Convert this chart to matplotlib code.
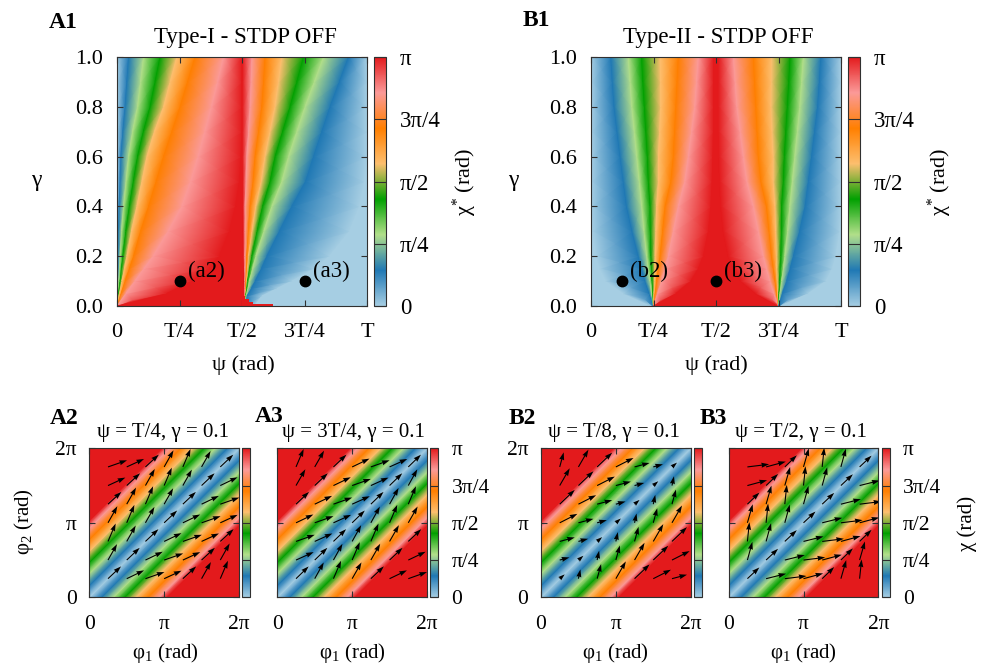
import numpy as np
import matplotlib
matplotlib.use("Agg")
import matplotlib.pyplot as plt
from matplotlib.cm import ScalarMappable
from matplotlib.colors import LinearSegmentedColormap, Normalize

plt.rcParams['font.family'] = ['Liberation Serif', 'DejaVu Serif']
plt.rcParams['mathtext.fontset'] = 'custom'
plt.rcParams['mathtext.rm'] = 'Liberation Serif'
plt.rcParams['mathtext.it'] = 'Liberation Serif'

W, H = 985, 667
LINE = '#303030'

# colour stops of the palette, chi in units of pi
palette = ['#a6cee3', '#1f78b4', '#b2df8a', '#00a000', '#fdbf6f', '#ff7f00', '#fb9a99', '#e31a1c']
chi_stops = [0, .143, .286, .429, .571, .714, .857, 1]

# top panels: psi/T where chi reaches each stop, one row per gamma
a1_left_gamma = [0, .05, .1, .15, .2, .3, .4, .5, .6, .7, .8, .9, 1]
a1_left = [
    [0, 0, 0, 0, 0, 0, 0, 0, .53],
    [0, .001, .003, .006, .01, .017, .036, .2, .53],
    [0, .003, .007, .013, .02, .033, .072, .3, .53],
    [0, .004, .01, .018, .03, .05, .108, .37, .53],
    [0, .004, .013, .024, .04, .067, .145, .41, .53],
    [0, .006, .019, .036, .058, .095, .205, .45, .53],
    [0, .009, .027, .05, .08, .127, .26, .475, .53],
    [0, .013, .037, .066, .1, .157, .295, .49, .53],
    [0, .016, .047, .083, .12, .187, .325, .497, .53],
    [0, .024, .063, .106, .15, .22, .352, .5, .53],
    [0, .033, .083, .133, .187, .253, .378, .5, .53],
    [0, .04, .095, .153, .213, .283, .403, .5, .53],
    [0, .047, .107, .173, .24, .313, .427, .5, .53],
]
a1_right_gamma = [0, .04, .07, .1, .15, .2, .3, .4, .5, .6, .7, .8, .9, 1]
a1_right = [
    [.513, .513, .514, .514, .515, .515, .516, .55, 1],
    [.511, .512, .513, .514, .515, .516, .52, .58, 1],
    [.510, .512, .515, .517, .519, .524, .538, .64, 1],
    [.509, .512, .516, .519, .522, .53, .553, .70, 1],
    [.508, .512, .518, .523, .531, .543, .578, .79, 1],
    [.506, .512, .52, .527, .54, .556, .60, .85, 1],
    [.505, .513, .526, .541, .561, .588, .65, .93, 1],
    [.504, .513, .533, .556, .583, .62, .70, .97, 1],
    [.504, .517, .545, .578, .613, .66, .755, .99, 1],
    [.503, .52, .553, .593, .633, .687, .787, 1, 1],
    [.503, .527, .567, .613, .663, .72, .82, 1, 1],
    [.503, .533, .58, .633, .693, .753, .853, 1, 1],
    [.503, .537, .587, .647, .72, .79, .89, 1, 1],
    [.503, .54, .593, .66, .747, .827, .927, 1, 1],
]
red_step_gamma = [.04, .027, .017, .008]
red_step_edge = [.513, .527, .545, .623]

# B1 is symmetric about T/2, left half only
b1_gamma = [0, .05, .1, .15, .2, .3, .4, .5, .6, .7, .8, .9, 1]
b1_half = [
    [0, .24, .25, .25, .25, .25, .25, .25, .25],
    [0, .13, .234, .244, .248, .252, .257, .267, .34],
    [0, .06, .217, .237, .245, .254, .263, .283, .40],
    [0, .035, .203, .23, .243, .256, .27, .297, .43],
    [0, .02, .19, .224, .24, .257, .277, .31, .45],
    [0, .005, .165, .213, .238, .26, .287, .33, .47],
    [0, 0, .143, .204, .237, .263, .297, .35, .48],
    [0, 0, .13, .194, .23, .27, .32, .376, .485],
    [0, 0, .117, .184, .226, .27, .33, .39, .488],
    [0, 0, .105, .174, .22, .275, .335, .403, .49],
    [0, 0, .093, .164, .214, .279, .34, .416, .49],
    [0, 0, .086, .157, .208, .278, .345, .423, .49],
    [0, 0, .08, .15, .203, .277, .35, .43, .49],
]

# bottom panels: phi2-phi1 (units of pi) where chi reaches each stop
stripe_offset = [0, .16, .32, .47, .62, .78, .93, 1.03]

# arrows, repeating with (col - row) mod 8
arrow_grid = [.25, .5, .75, 1, 1.25, 1.5, 1.75]
a2_u = [39, 52, 57, 52, 40, 28, 23, 27]
a2_v = [37, 25, 20, 24, 37, 50, 54, 48]
a3_u = [38, 27, 23, 28, 39, 52, 56, 53]
a3_v = [37, 49, 54, 49, 37, 25, 20, 24]
b2_u = [15, 6, 12, 30, 45, 53, 45, 29]
b2_v = [13, 28, 44, 52, 43, 27, 12, 8]
b3_u = [36, 60, 65, 59, 36, 16, 6, 15]
b3_v = [34, 15, 8, 16, 35, 56, 58, 55]

psi_ticks = [0, .25, .5, .75, 1]
psi_labels = ['0', 'T/4', 'T/2', '3T/4', 'T']
gamma_ticks = [0, .2, .4, .6, .8, 1]
phi_ticks = [0, 1, 2]
phi_labels = ['0', 'π', '2π']
bar_ticks = [0, .25, .5, .75, 1]
bar_labels = ['0', 'π/4', 'π/2', '3π/4', 'π']

cmap = LinearSegmentedColormap.from_list('pal', list(zip(chi_stops, palette)), N=512)
norm = Normalize(0, 1)

fig = plt.figure(figsize=(W / 100, H / 100), dpi=100)


def add_axes(x0, y0, x1, y1):
    return fig.add_axes([x0 / W, 1 - y1 / H, (x1 - x0) / W, (y1 - y0) / H])


def label(x, y, s, size=16, **kw):
    kw.setdefault('ha', 'center')
    kw.setdefault('va', 'center')
    fig.text(x / W, 1 - y / H, s, fontsize=size, **kw)


def style(ax, xticks, xlabels, yticks, ylabels, size, xpad, ypad):
    ax.set_xticks(xticks, xlabels if xlabels else [])
    ax.set_yticks(yticks, ylabels if ylabels else [])
    ax.tick_params(direction='in', top=True, right=True, length=4.2, width=.8, color=LINE,
                   labelsize=size)
    ax.tick_params(axis='x', pad=xpad)
    ax.tick_params(axis='y', pad=ypad)
    for s in ax.spines.values():
        s.set_linewidth(.8)
        s.set_color(LINE)
        s.set_zorder(5)


def colorbar(x0, y0, x1, y1, labels, size, pad):
    cax = add_axes(x0, y0, x1, y1)
    cb = fig.colorbar(ScalarMappable(norm, cmap), cax=cax)
    cb.set_ticks(bar_ticks, labels=bar_labels if labels else [])
    cax.tick_params(direction='in', length=(x1 - x0) * .72, width=.8, color=LINE,
                    labelsize=size, pad=pad)
    cb.outline.set_linewidth(.8)
    cb.outline.set_edgecolor(LINE)


def iso_mesh(ax, xs, gammas, chis):
    xs = np.array(xs)
    ys = np.tile(np.array(gammas)[:, None], (1, xs.shape[1]))
    cs = np.tile(np.array(chis), (xs.shape[0], 1))
    ax.pcolormesh(xs, ys, cs, shading='gouraud', cmap=cmap, norm=norm)


def stripes(ax):
    d = np.array(stripe_offset)
    offs = np.concatenate([[-2], -d[::-1], d[1:], [2]])
    chis = np.concatenate([[1], chi_stops[::-1], chi_stops[1:], [1]])
    s = np.array([-2., 4.])
    xs = np.tile(s[:, None], (1, len(offs)))
    ys = xs + offs
    cs = np.tile(chis, (2, 1))
    ax.pcolormesh(xs, ys, cs, shading='gouraud', cmap=cmap, norm=norm)


def arrows(ax, u, v):
    X, Y = np.meshgrid(arrow_grid, arrow_grid)
    J, K = np.meshgrid(range(1, 8), range(1, 8))
    idx = (J - K) % 8
    ax.quiver(X, Y, np.array(u)[idx], np.array(v)[idx], angles='xy', scale_units='xy', scale=224.5,
              pivot='tail', color='black', units='dots', width=1.1, headwidth=4.6,
              headlength=7, headaxislength=6.5, zorder=3)


# top row
ax = add_axes(117, 57, 367, 306)
iso_mesh(ax, a1_left, a1_left_gamma, chi_stops + [1])
iso_mesh(ax, a1_right, a1_right_gamma, [1, .857, .714, .571, .429, .286, .143, 0, 0])
for top, edge in zip(red_step_gamma, red_step_edge):
    ax.bar(.5, top, width=edge - .5, align='edge', color='#e31a1c', zorder=2)
ax.plot([.25, .75], [.1, .1], 'o', color='black', ms=7.5, zorder=4)
ax.text(.285, .14, '(a2)', fontsize=16.5, va='center')
ax.text(.785, .14, '(a3)', fontsize=16.5, va='center')
ax.set_xlim(0, 1)
ax.set_ylim(0, 1)
style(ax, psi_ticks, psi_labels, gamma_ticks, [f'{g:.1f}' for g in gamma_ticks], 16, 12, 10)
colorbar(373.5, 57, 386, 306, True, 16.5, 10)

half = np.array(b1_half)
full = np.hstack([half, 1 - half[:, ::-1]])
ax = add_axes(591, 57, 841, 306)
iso_mesh(ax, full, b1_gamma, [0, 0] + chi_stops[1:] + chi_stops[::-1][:7] + [0, 0])
ax.plot([.125, .5], [.1, .1], 'o', color='black', ms=7.5, zorder=4)
ax.text(.157, .14, '(b2)', fontsize=16.5, va='center')
ax.text(.533, .14, '(b3)', fontsize=16.5, va='center')
ax.set_xlim(0, 1)
ax.set_ylim(0, 1)
style(ax, psi_ticks, psi_labels, gamma_ticks, [f'{g:.1f}' for g in gamma_ticks], 16, 12, 10)
colorbar(847.5, 57, 860, 306, True, 16.5, 10)

# bottom row
panels = [
    (89.3, 239, 242.3, 250.3, a2_u, a2_v, True, False),
    (277.3, 427, 430.3, 438.3, a3_u, a3_v, False, True),
    (541, 690.7, 694, 702, b2_u, b2_v, True, False),
    (728.7, 878.3, 881.7, 889.7, b3_u, b3_v, False, True),
]
for x0, x1, c0, c1, u, v, ylab, barlab in panels:
    ax = add_axes(x0, 448.3, x1, 597.3)
    stripes(ax)
    arrows(ax, u, v)
    ax.set_xlim(0, 2)
    ax.set_ylim(0, 2)
    style(ax, phi_ticks, phi_labels, phi_ticks, phi_labels if ylab else None, 15.5, 13, 9)
    colorbar(c0, 448.3, c1, 597.3, barlab, 15.5, 9.5)

# text
label(63, 22, 'A1', 17, fontweight='bold')
label(536, 21, 'B1', 17, fontweight='bold')
label(64, 418, 'A2', 17, fontweight='bold')
label(269, 416, 'A3', 17, fontweight='bold')
label(522, 418, 'B2', 17, fontweight='bold')
label(713, 418, 'B3', 17, fontweight='bold')
label(245, 37, 'Type-I - STDP OFF', 16.5)
label(718, 37, 'Type-II - STDP OFF', 16.5)
label(163, 432, 'ψ = T/4, γ = 0.1', 15)
label(353, 432, 'ψ = 3T/4, γ = 0.1', 15)
label(614, 432, 'ψ = T/8, γ = 0.1', 15)
label(801, 432, 'ψ = T/2, γ = 0.1', 15)
label(243, 365, 'ψ (rad)')
label(716, 365, 'ψ (rad)')
label(36, 181, 'γ', 17)
label(513, 181, 'γ', 17)
label(465, 182, r'$\mathrm{χ^{*}}$ (rad)', rotation=90)
label(940, 182, r'$\mathrm{χ^{*}}$ (rad)', rotation=90)
for cx in [165, 352, 615, 803]:
    label(cx, 653, r'$\mathrm{φ_1}$ (rad)', 15)
label(24, 522, r'$\mathrm{φ_2}$ (rad)', 15, rotation=90)
label(967, 523, 'χ (rad)', 15, rotation=90)

fig.savefig('out.png', dpi=100)
